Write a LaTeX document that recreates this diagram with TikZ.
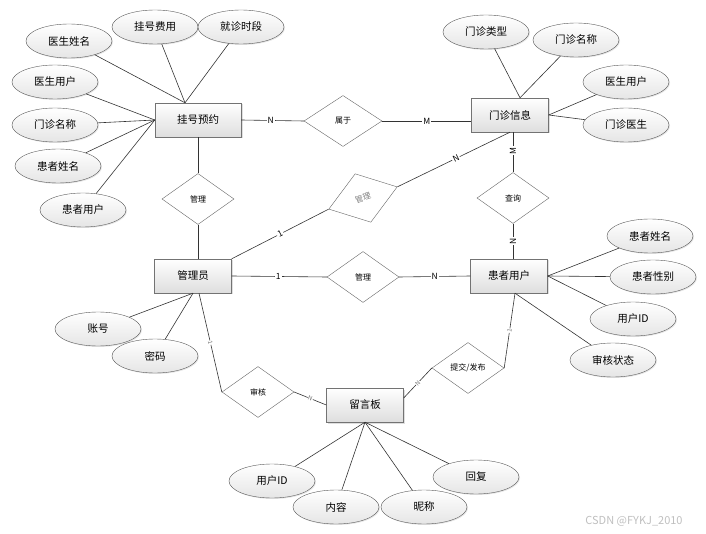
\documentclass[tikz,border=0pt]{standalone}
\usepackage{fontspec}
\setmainfont{Noto Sans CJK SC}
\usetikzlibrary{shapes.geometric,shadows}

\begin{document}
\begin{tikzpicture}[x=1pt, y=-1pt,
	entity/.style={rectangle, draw=black!55, minimum width=77pt, minimum height=34pt, top color=white, bottom color=black!13, drop shadow={opacity=0.25, shadow xshift=1.5pt, shadow yshift=-1.5pt}, font=\fontsize{10.5}{12}\selectfont},
	attr/.style={ellipse, draw=black!65, minimum width=86pt, minimum height=34pt, top color=white, bottom color=black!10, drop shadow={opacity=0.2, shadow xshift=1pt, shadow yshift=-1pt}, font=\fontsize{10.5}{12}\selectfont},
	rel/.style={diamond, draw=black!60, fill=white, minimum width=72pt, minimum height=51pt, inner sep=0pt, font=\fontsize{8}{9}\selectfont},
	card/.style={fill=white, inner sep=1pt, font=\fontsize{8.5}{9}\selectfont},
	tick/.style={fill=white, inner sep=0.5pt, text=black!55, font=\fontsize{6}{6}\selectfont, sloped},
	link/.style={draw=black!80, line width=0.6pt}]
			\useasboundingbox (0,0) rectangle (706,534);
			
			\node[entity, minimum width=86pt] (gh) at (198,120) {挂号预约};
			\node[entity] (mz) at (510,115) {门诊信息};
			\node[entity] (gly) at (193,276) {管理员};
			\node[entity] (hz) at (509,276) {患者用户};
			\node[entity] (ly) at (365,405) {留言板};
			
			\node[rel, minimum width=78pt] (sy) at (343,121) {属于};
			\node[rel] (gl1) at (198,199) {管理};
			\node[rel, rotate=18, text=black!50] (gl2) at (363,198) {管理};
			\node[rel] (cx) at (513,198) {查询};
			\node[rel] (gl3) at (363,277) {管理};
			\node[rel] (sh) at (258,392) {审核};
			\node[rel] (tj) at (468,368) {提交/发布};
			
			\node[attr] (a1) at (69,41) {医生姓名};
			\node[attr] (a2) at (155,27) {挂号费用};
			\node[attr] (a3) at (241,27) {就诊时段};
			\node[attr] (a4) at (55,82) {医生用户};
			\node[attr] (a5) at (55,125) {门诊名称};
			\node[attr] (a6) at (58,166) {患者姓名};
			\node[attr] (a7) at (83,210) {患者用户};
			
			\node[attr] (b1) at (486,32) {门诊类型};
			\node[attr] (b2) at (576,40) {门诊名称};
			\node[attr] (b3) at (626,82) {医生用户};
			\node[attr] (b4) at (626,125) {门诊医生};
			
			\node[attr] (c1) at (98,329) {账号};
			\node[attr] (c2) at (155,356) {密码};
			
			\node[attr] (d1) at (650,236) {患者姓名};
			\node[attr] (d2) at (653,277) {患者性别};
			\node[attr] (d3) at (633,319) {用户ID};
			\node[attr] (d4) at (613,360) {审核状态};
			
			\node[attr] (e1) at (272,481) {用户ID};
			\node[attr] (e2) at (336,507) {内容};
			\node[attr] (e3) at (424,507) {昵称};
			\node[attr] (e4) at (476,477) {回复};
			
			\foreach \a in {a1,a2,a3} \draw[link] (\a) -- ([xshift=-13pt]gh.north);
			\foreach \a in {a4,a5,a6,a7} \draw[link] (\a) -- (gh.west);
			\foreach \a in {b1,b2} \draw[link] (\a) -- ([xshift=10pt]mz.north);
			\foreach \a in {b3,b4} \draw[link] (\a) -- (mz.east);
			\foreach \a in {c1,c2} \draw[link] (\a) -- (gly.south);
			\foreach \a in {d1,d2,d3} \draw[link] (\a) -- (hz.east);
			\draw[link] (d4) -- ([xshift=6pt]hz.south);
			\foreach \a in {e1,e2,e3,e4} \draw[link] (\a) -- (ly.south);
			
			\draw[link] (gh.east) -- (sy.west) node[card, pos=0.47] {N};
			\draw[link] (sy.east) -- (sy.east -| mz.west) node[card, pos=0.5] {M};
			\draw[link] (gh.south) -- (gl1.north);
			\draw[link] (gl1.south) -- (gl1.south |- gly.north);
			\draw[link] (gly.north east) -- (gl2.west) node[card, pos=0.5, sloped] {1};
			\draw[link] (gl2.east) -- (mz.south) node[card, pos=0.52, sloped] {N};
			\draw[link] (cx.north |- mz.south) -- (cx.north) node[card, pos=0.46, rotate=90] {M};
			\draw[link] (cx.south) -- (cx.south |- hz.north) node[card, pos=0.5, rotate=90] {N};
			\draw[link] (gly.east) -- (gl3.west) node[card, pos=0.49] {1};
			\draw[link] (gl3.east) -- (hz.west) node[card, pos=0.5] {N};
			\draw[link] ([xshift=6pt]gly.south) -- (sh.west) node[tick, pos=0.5] {1};
			\draw[link] (sh.east) -- (ly.west) node[tick, pos=0.5] {N};
			\draw[link] ([yshift=7pt]ly.east) -- (tj.west) node[tick, pos=0.5] {N};
			\draw[link] (tj.east) -- ([xshift=6pt]hz.south) node[tick, pos=0.5] {1};
			
			\node[text=black!25, font=\fontsize{11}{12}\selectfont] (wm) at (634,521) {CSDN @FYKJ\_2010};
		\end{tikzpicture}
\end{document}
